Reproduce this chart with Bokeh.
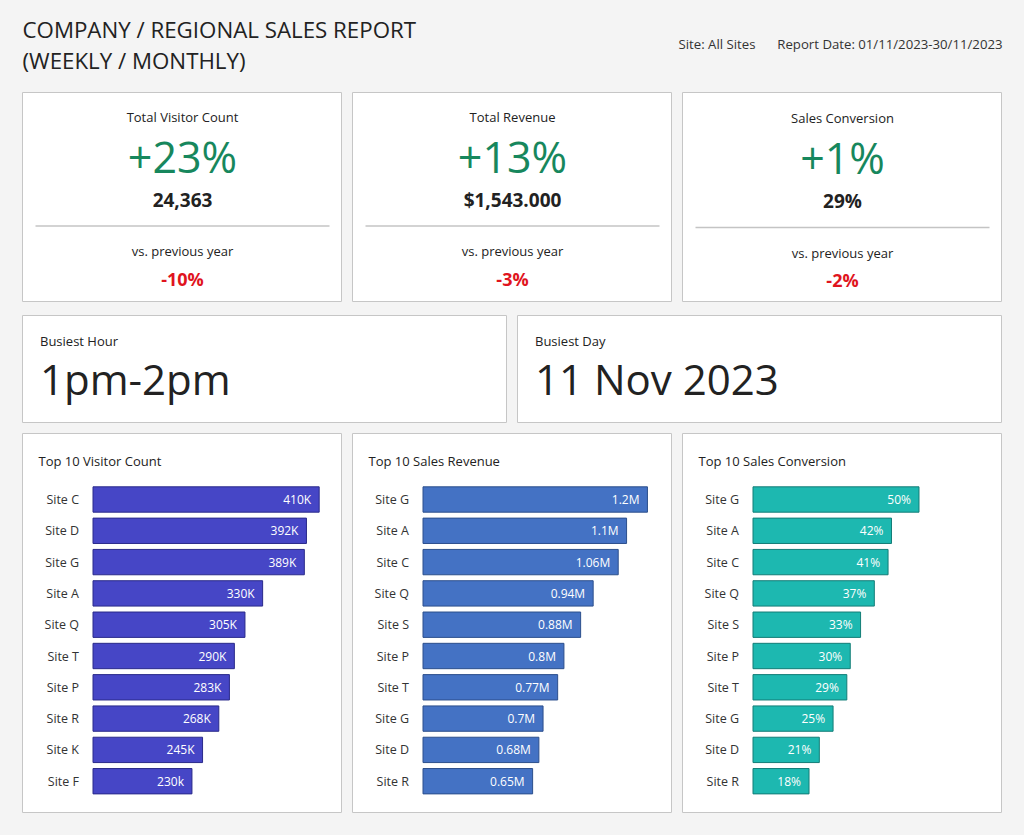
from bokeh.plotting import figure
from bokeh.layouts import column, row
from bokeh.models import Range1d, Label, Spacer, ColumnDataSource
from bokeh.embed import file_html
from bokeh.resources import INLINE
from bokeh.core.properties import value

# ---------------------------------------------------------------- data
report_title = ["COMPANY / REGIONAL SALES REPORT", "(WEEKLY / MONTHLY)"]
site_filter = "Site: All Sites"
report_date = "Report Date: 01/11/2023-30/11/2023"

kpi_titles = ["Total Visitor Count", "Total Revenue", "Sales Conversion"]
kpi_change = ["+23%", "+13%", "+1%"]
kpi_totals = ["24,363", "$1,543.000", "29%"]
kpi_vs_label = "vs. previous year"
kpi_yoy = ["-10%", "-3%", "-2%"]

busiest_titles = ["Busiest Hour", "Busiest Day"]
busiest_values = ["1pm-2pm", "11 Nov 2023"]

visitor_sites = ["Site C", "Site D", "Site G", "Site A", "Site Q",
                 "Site T", "Site P", "Site R", "Site K", "Site F"]
visitor_counts = [410, 392, 389, 330, 305, 290, 283, 268, 245, 230]  # thousands
visitor_labels = ["410K", "392K", "389K", "330K", "305K",
                  "290K", "283K", "268K", "245K", "230k"]

revenue_sites = ["Site G", "Site A", "Site C", "Site Q", "Site S",
                 "Site P", "Site T", "Site G", "Site D", "Site R"]
revenue_values = [1.2, 1.1, 1.06, 0.94, 0.88, 0.8, 0.77, 0.7, 0.68, 0.65]  # millions
revenue_labels = ["1.2M", "1.1M", "1.06M", "0.94M", "0.88M",
                  "0.8M", "0.77M", "0.7M", "0.68M", "0.65M"]

conversion_sites = ["Site G", "Site A", "Site C", "Site Q", "Site S",
                    "Site P", "Site T", "Site G", "Site D", "Site R"]
conversion_values = [50, 42, 41, 37, 33, 30, 29, 25, 21, 18]  # percent
conversion_labels = ["50%", "42%", "41%", "37%", "33%",
                     "30%", "29%", "25%", "21%", "18%"]

# ---------------------------------------------------------------- style
FONT = "Open Sans"
PAGE_BG = "#f4f4f4"
PANEL_LINE = "#c6c6c6"
INK = "#222222"
GOOD = "#17875d"
BAD = "#e0141e"


def base_fig(w, h, x_range=None, y_range=None, bg="white", outline=PANEL_LINE):
    p = figure(width=w, height=h,
               x_range=x_range if x_range is not None else Range1d(0, w),
               y_range=y_range if y_range is not None else Range1d(h, 0),
               x_axis_location=None, y_axis_location=None,
               output_backend="svg", toolbar_location=None, min_border=0)
    p.grid.visible = False
    p.background_fill_color = bg
    p.border_fill_color = bg
    p.outline_line_color = outline
    p.outline_line_width = 1
    return p


def label(p, x, y, text, size, color=INK, align="left", style="normal"):
    # y is the visual middle of the line of text
    p.add_layout(Label(x=x, y=y, text=text, text_font=FONT, text_font_size=size,
                       text_color=color, text_align=align, text_baseline="middle",
                       text_font_style=style))


# ---------------------------------------------------------------- header
header = base_fig(1024, 92, bg=PAGE_BG, outline=None)
label(header, 22, 28.5, report_title[0], "22.3px")
label(header, 22, 60, report_title[1], "22.3px")
label(header, 678, 43, site_filter, "13.2px", color="#333333")
label(header, 1002, 43, report_date, "13.2px", color="#333333", align="right")

# ---------------------------------------------------------------- KPI cards
KPI_W, KPI_H = 320, 210
kpi_shift = [0, 0, 1.5]
kpi_cards = []
for i in range(3):
    p = base_fig(KPI_W, KPI_H)
    cx, dy = KPI_W / 2, kpi_shift[i]
    label(p, cx, 24 + dy, kpi_titles[i], "13px", align="center")
    label(p, cx, 63.5 + dy, kpi_change[i], "43px", color=GOOD, align="center")
    label(p, cx, 107 + dy, kpi_totals[i], "19px", align="center", style="bold")
    p.line(x=[13, KPI_W - 13], y=[133.5 + dy, 133.5 + dy], line_color="#c4c4c4", line_width=1.5)
    label(p, cx, 158.5 + dy, kpi_vs_label, "13px", align="center")
    label(p, cx, 186 + dy, kpi_yoy[i], "18px", color=BAD, align="center", style="bold")
    kpi_cards.append(p)

# ---------------------------------------------------------------- busiest cards
BUSY_W, BUSY_H = 485, 108
busy_cards = []
for i in range(2):
    p = base_fig(BUSY_W, BUSY_H)
    label(p, 17.5, 25.5, busiest_titles[i], "13px")
    label(p, 17.5, 62.5, busiest_values[i], "42px")
    busy_cards.append(p)

# ---------------------------------------------------------------- top-10 bar cards
BAR_W, BAR_H = 320, 380
BAR_LEFT_PX = 70.5          # pixel where bars start inside a card
ROW_PX, FIRST_ROW_PX = 31.3, 66.0


def bar_card(title, sites, values, labels, axis_min, axis_max, fill, line):
    n = len(values)
    per_px = (axis_max - axis_min) / (BAR_W - BAR_LEFT_PX)
    xr = Range1d(axis_min - BAR_LEFT_PX * per_px, axis_max)
    yr = Range1d((BAR_H - FIRST_ROW_PX) / ROW_PX, -FIRST_ROW_PX / ROW_PX)
    p = base_fig(BAR_W, BAR_H, x_range=xr, y_range=yr)
    src = ColumnDataSource(dict(rank=list(range(n)), value=values, site=sites,
                                label=labels, base=[axis_min] * n))
    p.hbar(y="rank", left="base", right="value", height=0.81, source=src,
           fill_color=fill, line_color=line, line_width=1)
    p.text(x="base", y="rank", text="site", source=src, x_offset=-14,
           text_align="right", text_baseline="middle", text_font=value(FONT),
           text_font_size="12.5px", text_color="#333333")
    p.text(x="value", y="rank", text="label", source=src, x_offset=-8,
           text_align="right", text_baseline="middle", text_font=value(FONT),
           text_font_size="12px", text_color="white")
    p.add_layout(Label(x=16, y=BAR_H - 27, x_units="screen", y_units="screen",
                       text=title, text_font=FONT, text_font_size="13px",
                       text_color=INK, text_baseline="middle"))
    return p


bar_cards = [
    bar_card("Top 10 Visitor Count", visitor_sites, visitor_counts, visitor_labels,
             90, 443, "#4646c6", "#2a2a8a"),
    bar_card("Top 10 Sales Revenue", revenue_sites, revenue_values, revenue_labels,
             0.125, 1.32, "#4472c4", "#2c4f8c"),
    bar_card("Top 10 Sales Conversion", conversion_sites, conversion_values, conversion_labels,
             1.7, 74.3, "#1db8b0", "#137d77"),
]

# ---------------------------------------------------------------- page layout
row1 = row(Spacer(width=22, height=KPI_H), kpi_cards[0], Spacer(width=10, height=KPI_H),
           kpi_cards[1], Spacer(width=10, height=KPI_H), kpi_cards[2])
row2 = row(Spacer(width=22, height=BUSY_H), busy_cards[0], Spacer(width=10, height=BUSY_H),
           busy_cards[1])
row3 = row(Spacer(width=22, height=BAR_H), bar_cards[0], Spacer(width=10, height=BAR_H),
           bar_cards[1], Spacer(width=10, height=BAR_H), bar_cards[2])

page = column(header, row1, Spacer(width=1024, height=13), row2,
              Spacer(width=1024, height=10), row3, Spacer(width=1024, height=22),
              width=1024, height=835, styles={"background-color": PAGE_BG})

open("out.html", "w").write(file_html(page, INLINE))
